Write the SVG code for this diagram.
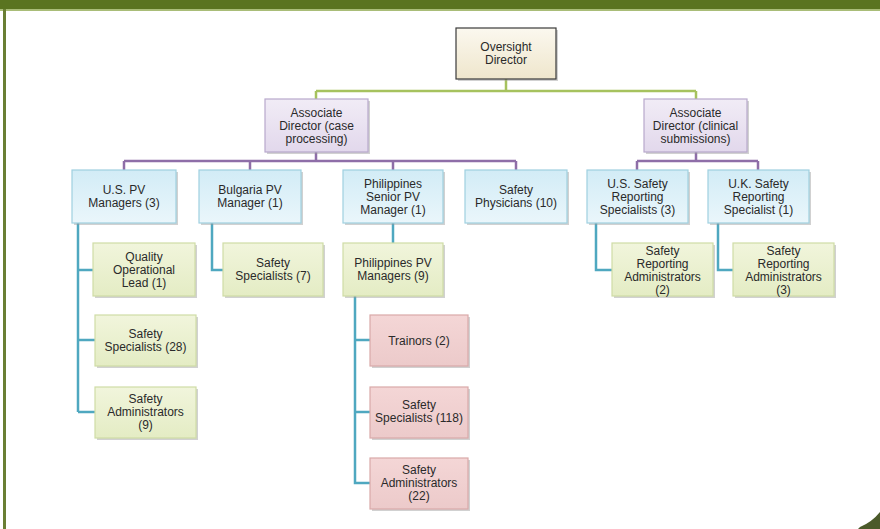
<svg xmlns="http://www.w3.org/2000/svg" width="880" height="529" viewBox="0 0 880 529">
<defs>
<linearGradient id="gBeige" x1="0" y1="0" x2="0" y2="1"><stop offset="0" stop-color="#fbf8ef"/><stop offset="1" stop-color="#efe6cc"/></linearGradient>
<linearGradient id="gLav" x1="0" y1="0" x2="0" y2="1"><stop offset="0" stop-color="#f1ecf6"/><stop offset="1" stop-color="#e2d8ec"/></linearGradient>
<linearGradient id="gBlue" x1="0" y1="0" x2="0" y2="1"><stop offset="0" stop-color="#d2ecf6"/><stop offset="1" stop-color="#eaf6fb"/></linearGradient>
<linearGradient id="gGreen" x1="0" y1="0" x2="0" y2="1"><stop offset="0" stop-color="#f1f5dc"/><stop offset="1" stop-color="#e4ecc4"/></linearGradient>
<linearGradient id="gPink" x1="0" y1="0" x2="0" y2="1"><stop offset="0" stop-color="#f4d6d6"/><stop offset="1" stop-color="#eccaca"/></linearGradient>
</defs>
<style>
.sh{fill:#9a9a9a;opacity:0.45}
.beige{fill:url(#gBeige);stroke:#3a3a3a;stroke-width:1.2}
.lav{fill:url(#gLav);stroke:#b8a8cc;stroke-width:1.2}
.blue{fill:url(#gBlue);stroke:#9fd0e0;stroke-width:1.2}
.green{fill:url(#gGreen);stroke:#cfdca6;stroke-width:1.2}
.pink{fill:url(#gPink);stroke:#d9a9a8;stroke-width:1.2}
text{font-family:"Liberation Sans",Arial,sans-serif;font-size:12px;fill:#2a2a2a;text-anchor:middle}
.cg{stroke:#a6c25e;stroke-width:2.5;fill:none}
.cp{stroke:#8e6ea8;stroke-width:2.5;fill:none}
.ct{stroke:#4fa8c0;stroke-width:2.5;fill:none}
</style>
<rect x="0" y="0" width="880" height="529" fill="#ffffff"/>
<rect x="0" y="0" width="880" height="9" fill="#5a7420"/>
<rect x="0" y="9" width="880" height="2" fill="#a9bd78"/>
<rect x="3" y="9" width="3" height="520" fill="#6a7f34"/>
<path d="M860 527 Q872 522 880 512 L880 529 L858 529 Z" fill="#4b5a2a"/>

<g id="connectors">
<path class="cg" d="M506 79 V91 M316 91 H696 M316 91 V99 M696 91 V99"/>
<path class="cp" d="M316 152 V161 M124 161 H516 M124 161 V170 M250 161 V170 M393 161 V170 M516 161 V170"/>
<path class="cp" d="M696 152 V161 M637 161 H758 M637 161 V170 M758 161 V170"/>
<path class="ct" d="M78 223 V412 M78 270 H93 M78 340 H95 M78 412 H95"/>
<path class="ct" d="M212 223 V270 H223"/>
<path class="ct" d="M393 223 V243"/>
<path class="ct" d="M355 296 V483 H370 M355 340 H370 M355 412 H370"/>
<path class="ct" d="M596 223 V270 H612"/>
<path class="ct" d="M718 223 V270 H733"/>
</g>

<g id="oversight-director">
<rect class="sh" x="458" y="30" width="100" height="51"/>
<rect class="beige" x="456" y="28" width="100" height="51"/>
<text x="506" y="51">Oversight</text><text x="506" y="64">Director</text>
</g>
<g id="ad-case">
<rect class="sh" x="267" y="101" width="103" height="53"/>
<rect class="lav" x="265" y="99" width="103" height="53"/>
<text x="316.5" y="117">Associate</text><text x="316.5" y="130">Director (case</text><text x="316.5" y="143">processing)</text>
</g>
<g id="ad-clinical">
<rect class="sh" x="646" y="101" width="103" height="53"/>
<rect class="lav" x="644" y="99" width="103" height="53"/>
<text x="695.5" y="117">Associate</text><text x="695.5" y="130">Director (clinical</text><text x="695.5" y="143">submissions)</text>
</g>

<g id="us-pv-managers">
<rect class="sh" x="74" y="172" width="104" height="53"/>
<rect class="blue" x="72" y="170" width="104" height="53"/>
<text x="124" y="194">U.S. PV</text><text x="124" y="207">Managers (3)</text>
</g>
<g id="bulgaria-pv-manager">
<rect class="sh" x="201" y="172" width="102" height="53"/>
<rect class="blue" x="199" y="170" width="102" height="53"/>
<text x="250" y="194">Bulgaria PV</text><text x="250" y="207">Manager (1)</text>
</g>
<g id="philippines-senior-pv-manager">
<rect class="sh" x="345" y="172" width="100" height="53"/>
<rect class="blue" x="343" y="170" width="100" height="53"/>
<text x="393" y="188">Philippines</text><text x="393" y="201">Senior PV</text><text x="393" y="214">Manager (1)</text>
</g>
<g id="safety-physicians">
<rect class="sh" x="467" y="172" width="102" height="53"/>
<rect class="blue" x="465" y="170" width="102" height="53"/>
<text x="516" y="194">Safety</text><text x="516" y="207">Physicians (10)</text>
</g>
<g id="us-safety-reporting-specialists">
<rect class="sh" x="589" y="172" width="101" height="53"/>
<rect class="blue" x="587" y="170" width="101" height="53"/>
<text x="637.5" y="188">U.S. Safety</text><text x="637.5" y="201">Reporting</text><text x="637.5" y="214">Specialists (3)</text>
</g>
<g id="uk-safety-reporting-specialist">
<rect class="sh" x="710" y="172" width="101" height="53"/>
<rect class="blue" x="708" y="170" width="101" height="53"/>
<text x="758.5" y="188">U.K. Safety</text><text x="758.5" y="201">Reporting</text><text x="758.5" y="214">Specialist (1)</text>
</g>

<g id="quality-operational-lead">
<rect class="sh" x="95" y="245" width="102" height="53"/>
<rect class="green" x="93" y="243" width="102" height="53"/>
<text x="144" y="261">Quality</text><text x="144" y="274">Operational</text><text x="144" y="287">Lead (1)</text>
</g>
<g id="safety-specialists-7">
<rect class="sh" x="225" y="245" width="100" height="53"/>
<rect class="green" x="223" y="243" width="100" height="53"/>
<text x="273" y="267">Safety</text><text x="273" y="280">Specialists (7)</text>
</g>
<g id="philippines-pv-managers">
<rect class="sh" x="345" y="245" width="100" height="53"/>
<rect class="green" x="343" y="243" width="100" height="53"/>
<text x="393" y="267">Philippines PV</text><text x="393" y="280">Managers (9)</text>
</g>
<g id="safety-reporting-admins-2">
<rect class="sh" x="614" y="245" width="101" height="53"/>
<rect class="green" x="612" y="243" width="101" height="53"/>
<text x="662.5" y="255">Safety</text><text x="662.5" y="268">Reporting</text><text x="662.5" y="281">Administrators</text><text x="662.5" y="294">(2)</text>
</g>
<g id="safety-reporting-admins-3">
<rect class="sh" x="735" y="245" width="101" height="53"/>
<rect class="green" x="733" y="243" width="101" height="53"/>
<text x="783.5" y="255">Safety</text><text x="783.5" y="268">Reporting</text><text x="783.5" y="281">Administrators</text><text x="783.5" y="294">(3)</text>
</g>
<g id="safety-specialists-28">
<rect class="sh" x="97" y="317" width="101" height="51"/>
<rect class="green" x="95" y="315" width="101" height="51"/>
<text x="145.5" y="338">Safety</text><text x="145.5" y="351">Specialists (28)</text>
</g>
<g id="safety-administrators-9">
<rect class="sh" x="97" y="389" width="101" height="51"/>
<rect class="green" x="95" y="387" width="101" height="51"/>
<text x="145.5" y="403">Safety</text><text x="145.5" y="416">Administrators</text><text x="145.5" y="429">(9)</text>
</g>

<g id="trainors">
<rect class="sh" x="372" y="317" width="98" height="51"/>
<rect class="pink" x="370" y="315" width="98" height="51"/>
<text x="419" y="345">Trainors (2)</text>
</g>
<g id="safety-specialists-118">
<rect class="sh" x="372" y="389" width="98" height="51"/>
<rect class="pink" x="370" y="387" width="98" height="51"/>
<text x="419" y="409">Safety</text><text x="419" y="422">Specialists (118)</text>
</g>
<g id="safety-administrators-22">
<rect class="sh" x="372" y="460" width="98" height="51"/>
<rect class="pink" x="370" y="458" width="98" height="51"/>
<text x="419" y="474">Safety</text><text x="419" y="487">Administrators</text><text x="419" y="500">(22)</text>
</g>
</svg>
